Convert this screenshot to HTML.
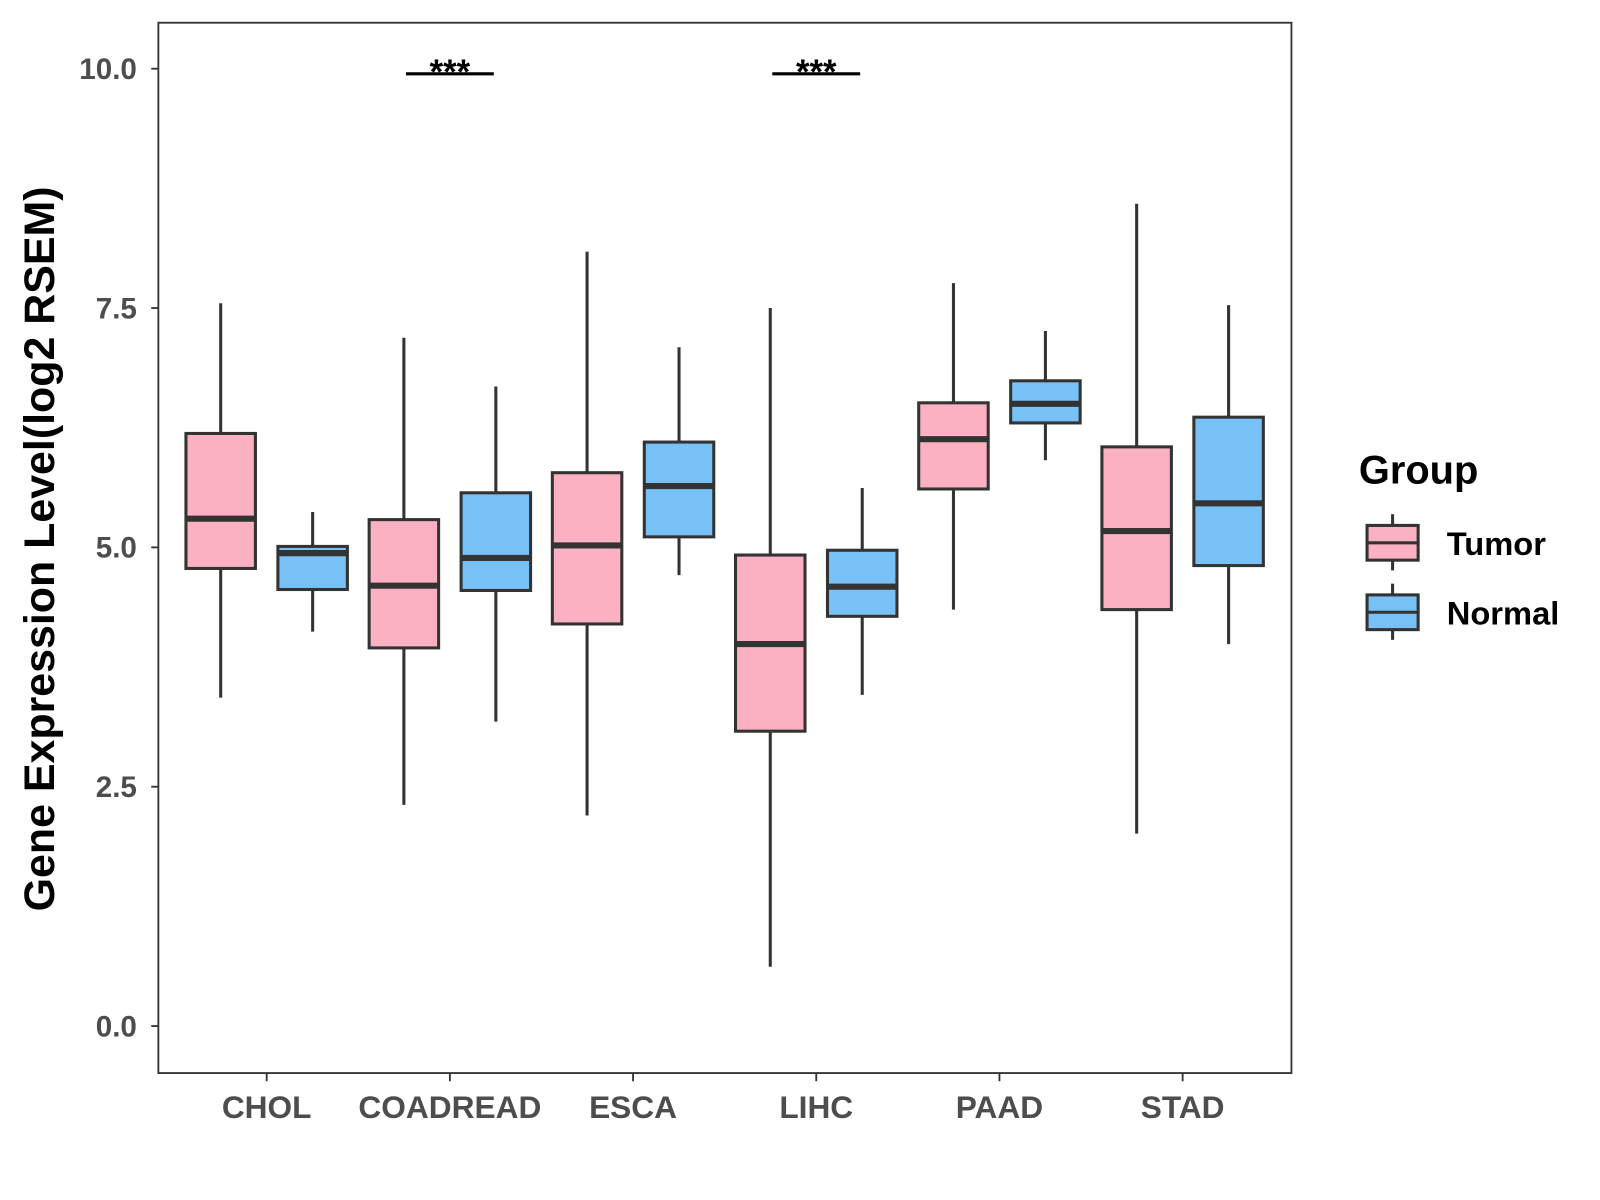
<!DOCTYPE html>
<html><head><meta charset="utf-8"><style>
html,body{margin:0;padding:0;background:#fff;}
svg{display:block;font-family:"Liberation Sans",Arial,sans-serif;}
</style></head><body>
<svg id="chart" width="1600" height="1200" viewBox="0 0 1566 1174" xmlns="http://www.w3.org/2000/svg">
<rect x="0" y="0" width="1566" height="1174" fill="#fff"/>
<rect x="155" y="22" width="1109" height="1028" fill="none" stroke="#333" stroke-width="1.8"/>
<g id="marks"></g>
<text transform="translate(53,537) rotate(-90)" text-anchor="middle" font-size="42" font-weight="bold" fill="#000">Gene Expression Level(log2 RSEM)</text>
<g>
<text x="1330" y="473" font-size="39" font-weight="bold">Group</text>
<line x1="1363" y1="503" x2="1363" y2="558" stroke="#333" stroke-width="3"/>
<rect x="1338" y="514" width="50" height="34" fill="#FBB1C2" stroke="#333" stroke-width="3"/>
<line x1="1338" y1="531" x2="1388" y2="531" stroke="#333" stroke-width="3"/>
<text x="1416" y="543" font-size="32" font-weight="bold">Tumor</text>
<line x1="1363" y1="571" x2="1363" y2="626" stroke="#333" stroke-width="3"/>
<rect x="1338" y="582" width="50" height="34" fill="#77C1F6" stroke="#333" stroke-width="3"/>
<line x1="1338" y1="599" x2="1388" y2="599" stroke="#333" stroke-width="3"/>
<text x="1416" y="611" font-size="32" font-weight="bold">Normal</text>
</g>
</svg>
<script>
const categories=["CHOL","COADREAD","ESCA","LIHC","PAAD","STAD"];
const tumorStats=[[3.43,4.78,5.30,6.19,7.55],[2.31,3.95,4.60,5.29,7.19],[2.20,4.20,5.02,5.78,8.09],[0.62,3.08,3.99,4.92,7.50],[4.35,5.61,6.13,6.51,7.76],[2.01,4.35,5.17,6.05,8.59]];
const normalStats=[[4.12,4.56,4.94,5.01,5.37],[3.18,4.55,4.89,5.57,6.68],[4.71,5.11,5.64,6.10,7.09],[3.46,4.28,4.59,4.97,5.62],[5.91,6.30,6.50,6.74,7.26],[3.99,4.81,5.46,6.36,7.53]];
const yTicks=[0,2.5,5,7.5,10];
const yTickLabels=["0.0","2.5","5.0","7.5","10.0"];
const significance=["","***","","***","",""];

const NS="http://www.w3.org/2000/svg";
const g=document.getElementById('marks');
function y(v){return 1004-v*93.7;}
function x(i){return 261+i*179.3;}
function mk(tag,attrs,parent){const e=document.createElementNS(NS,tag);for(const k in attrs)e.setAttribute(k,attrs[k]);(parent||g).appendChild(e);return e;}

yTicks.forEach((t,i)=>{
  const l=mk('line',{x1:148,x2:155,y1:y(t),y2:y(t),stroke:'#333','stroke-width':1.8});
  
  
  const tx=mk('text',{x:134,y:y(t)+10,'text-anchor':'end','font-size':29,'font-weight':'bold',fill:'#4d4d4d'});
  tx.textContent=yTickLabels[i];
  
  
});
categories.forEach((c,i)=>{
  const l=mk('line',{x1:x(i),x2:x(i),y1:1050,y2:1058,stroke:'#333','stroke-width':1.8});
  
  
  const tx=mk('text',{x:x(i),y:1094,'text-anchor':'middle','font-size':31,'font-weight':'bold',fill:'#4d4d4d'});
  tx.textContent=c;
  
  
});
function box(cx,s,fill,name){
  const grp=mk('g',{});
  
  
  mk('line',{x1:cx,x2:cx,y1:y(s[0]),y2:y(s[4]),stroke:'#333','stroke-width':3},grp);
  mk('rect',{x:cx-34,y:y(s[3]),width:68,height:y(s[1])-y(s[3]),fill:fill,stroke:'#333','stroke-width':3},grp);
  mk('line',{x1:cx-34,x2:cx+34,y1:y(s[2]),y2:y(s[2]),stroke:'#333','stroke-width':6},grp);
}
categories.forEach((c,i)=>{
  box(x(i)-45,tumorStats[i],'#FBB1C2','box-tumor-'+c.toLowerCase());
  box(x(i)+45,normalStats[i],'#77C1F6','box-normal-'+c.toLowerCase());
  if(significance[i]){
    const yy=y(10)+5;
    const l=mk('line',{x1:x(i)-43,x2:x(i)+43,y1:yy,y2:yy,stroke:'#000','stroke-width':3});
    
    
    const t=mk('text',{x:x(i),y:yy+10,'text-anchor':'middle','font-size':34,'font-weight':'bold'});
    t.textContent=significance[i];
    
    
  }
});
</script>
</body></html>
